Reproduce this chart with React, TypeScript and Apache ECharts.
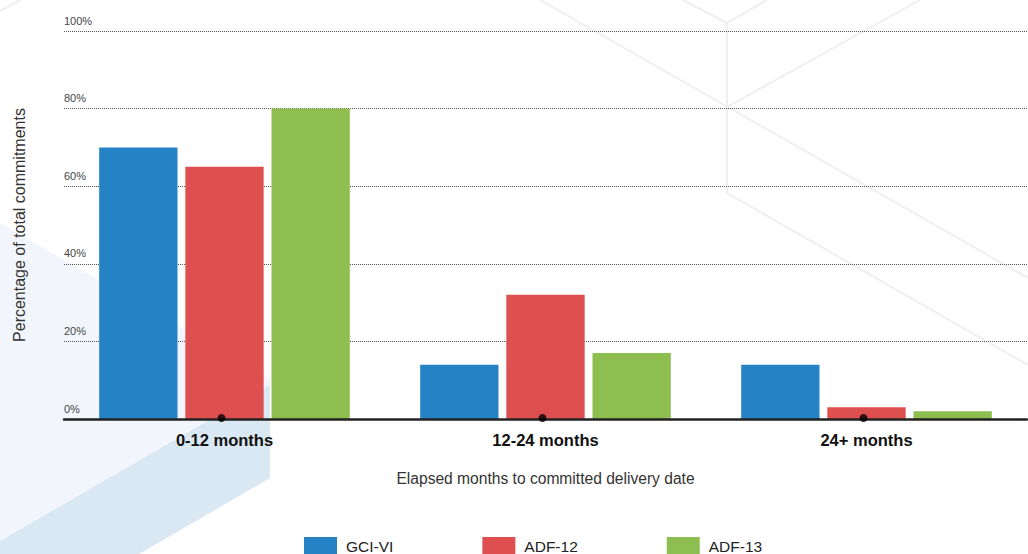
import React, { useEffect, useRef } from "react";
import * as echarts from "echarts";

const categories = ["0-12 months", "12-24 months", "24+ months"];
const gciVI = [70, 14, 14];
const adf12 = [65, 32, 3];
const adf13 = [80, 17, 2];
const seriesNames = ["GCI-VI", "ADF-12", "ADF-13"];
const yTicks = { min: 0, max: 100, interval: 20 };
const markerValues = [0, 0, 0];

const FONT = "'Liberation Sans', Arial, sans-serif";
const COLORS = ["#2482c5", "#de4f4f", "#8fbe50"];

export default function App() {
  const ref = useRef<HTMLDivElement>(null);
  useEffect(() => {
    document.body.style.margin = "0";
    document.body.style.overflow = "hidden";
    if (!ref.current) return;
    const chart = echarts.init(ref.current, null, { renderer: "svg" });
    const hexLine = { stroke: "#efefef", lineWidth: 2, fill: null };
    const option: any = {
      animation: false,
      backgroundColor: "#ffffff",
      graphic: [
        {
          type: "polygon",
          z: -10,
          silent: true,
          shape: { points: [[0, 223], [270, 379], [270, 478], [139, 554], [0, 554]] },
          style: { fill: "#f2f6fc" },
        },
        {
          type: "polygon",
          z: -9,
          silent: true,
          shape: { points: [[270, 385], [270, 478], [139, 554], [0, 554], [0, 541]] },
          style: { fill: "#d9e8f3" },
        },
        { type: "line", z: -8, silent: true, shape: { x1: 0, y1: 11, x2: 20, y2: 0 }, style: hexLine },
        { type: "line", z: -8, silent: true, shape: { x1: 683, y1: 0, x2: 727, y2: 23 }, style: hexLine },
        { type: "line", z: -8, silent: true, shape: { x1: 727, y1: 23, x2: 767, y2: 0 }, style: hexLine },
        { type: "line", z: -8, silent: true, shape: { x1: 727, y1: 23, x2: 727, y2: 193 }, style: hexLine },
        { type: "line", z: -8, silent: true, shape: { x1: 540, y1: 0, x2: 1028, y2: 278 }, style: hexLine },
        { type: "line", z: -8, silent: true, shape: { x1: 727, y1: 107, x2: 920, y2: 0 }, style: hexLine },
        { type: "line", z: -8, silent: true, shape: { x1: 727, y1: 193, x2: 1028, y2: 365 }, style: hexLine },
      ],
      grid: { left: 64, right: 1, top: 31, bottom: 135, containLabel: false },
      legend: {
        data: seriesNames,
        top: 537,
        left: 304,
        padding: 0,
        itemWidth: 33,
        itemHeight: 18,
        itemGap: 89,
        icon: "rect",
        selectedMode: false,
        textStyle: { fontFamily: FONT, fontSize: 15.5, color: "#222", padding: [0, 0, 0, 4] },
      },
      xAxis: {
        type: "category",
        data: categories,
        boundaryGap: true,
        name: "Elapsed months to committed delivery date",
        nameLocation: "middle",
        nameGap: 51,
        nameTextStyle: { fontFamily: FONT, fontSize: 15.6, color: "#333" },
        axisLine: { show: true, lineStyle: { color: "#222", width: 2.5 } },
        axisTick: { show: false },
        axisLabel: { fontFamily: FONT, fontSize: 16.5, fontWeight: "bold", color: "#111", margin: 12 },
        splitLine: { show: false },
        z: 5,
      },
      yAxis: {
        type: "value",
        min: yTicks.min,
        max: yTicks.max,
        interval: yTicks.interval,
        name: "Percentage of total commitments",
        nameLocation: "middle",
        nameGap: 37,
        nameTextStyle: { fontFamily: FONT, fontSize: 16, color: "#333" },
        axisLine: { show: false },
        axisTick: { show: false },
        axisLabel: {
          inside: true,
          formatter: "{value}%",
          fontFamily: FONT,
          fontSize: 11,
          color: "#444",
          verticalAlign: "bottom",
          margin: 0,
          padding: [0, 0, 5, 0],
        },
        splitLine: { show: true, lineStyle: { color: "#555", type: "dotted", width: 1 } },
      },
      series: [
        { name: seriesNames[0], type: "bar", data: gciVI, itemStyle: { color: COLORS[0] }, barWidth: "24.4%", barGap: "10%" },
        { name: seriesNames[1], type: "bar", data: adf12, itemStyle: { color: COLORS[1] }, barWidth: "24.4%", barGap: "10%" },
        { name: seriesNames[2], type: "bar", data: adf13, itemStyle: { color: COLORS[2] }, barWidth: "24.4%", barGap: "10%" },
        {
          name: "marker",
          type: "scatter",
          data: markerValues,
          symbol: "circle",
          symbolSize: 8,
          symbolOffset: [-3, -1],
          itemStyle: { color: "#000" },
          silent: true,
          z: 10,
        },
      ],
    };
    chart.setOption(option);
    return () => chart.dispose();
  }, []);
  return <div ref={ref} style={{ width: 1028, height: 554 }} />;
}
